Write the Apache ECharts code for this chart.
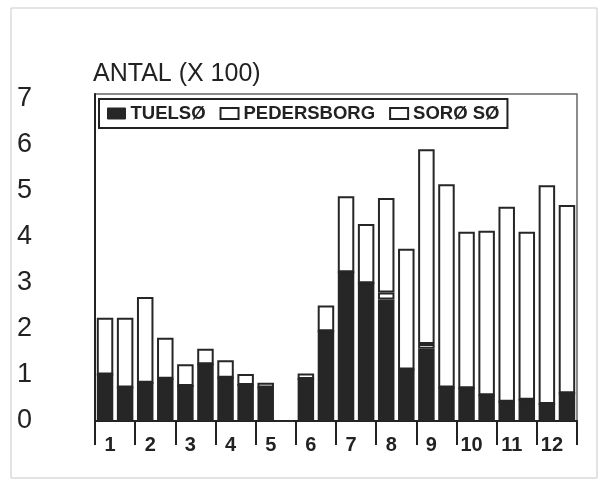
<!DOCTYPE html>
<html>
<head>
<meta charset="utf-8">
<script src="https://cdn.jsdelivr.net/npm/echarts@6/dist/echarts.min.js"></script>
<style>
html,body{margin:0;padding:0;background:#fff;}
#chart{width:605px;height:493px;}
</style>
</head>
<body>
<div id="chart"></div>
<script>
// Months (x-axis tick labels); each month has two bars
const months = ['1','2','3','4','5','6','7','8','9','10','11','12'];
const yTicks = [0,1,2,3,4,5,6,7];
const titleText = 'ANTAL (X 100)';
const seriesNames = ['TUELSØ', 'PEDERSBORG', 'SORØ SØ'];

// Values in hundreds, two bars per month
const tuelso     = [1.01,0.73, 0.83,0.92, 0.76,1.23, 0.94,0.78, 0.73,0.00, 0.91,1.95, 3.23,2.99, 2.64,1.12, 1.57,0.73, 0.71,0.56, 0.42,0.46, 0.37,0.60];
const pedersborg = [0.00,0.00, 0.00,0.00, 0.00,0.00, 0.00,0.00, 0.00,0.00, 0.00,0.00, 0.00,0.00, 0.15,0.00, 0.10,0.00, 0.00,0.00, 0.00,0.00, 0.00,0.00];
const soroSo     = [1.23,1.51, 1.86,0.89, 0.47,0.34, 0.38,0.24, 0.10,0.00, 0.12,0.56, 1.65,1.29, 2.05,2.62, 4.23,4.41, 3.40,3.57, 4.23,3.65, 4.75,4.09];

const slots = [];
months.forEach(m => { slots.push(m + 'a'); slots.push(m + 'b'); });

const DARK = '#262626';
const FONT = 'Liberation Sans, Arial, Helvetica, sans-serif';

const chart = echarts.init(document.getElementById('chart'), null, {renderer: 'canvas'});
const barCommon = {
  type: 'bar', stack: 'total', xAxisIndex: 0, yAxisIndex: 0,
  barWidth: 16.5, animation: false
};
chart.setOption({
  backgroundColor: '#ffffff',
  animation: false,
  title: {
    text: titleText, left: 93, top: 62, padding: 0,
    textStyle: {fontFamily: FONT, fontSize: 25, fontWeight: 'normal', color: '#222'}
  },
  legend: {
    left: 99, top: 99, orient: 'horizontal',
    padding: [5, 8], itemGap: 14, itemWidth: 18, itemHeight: 11,
    backgroundColor: '#fff', borderColor: '#222', borderWidth: 2,
    textStyle: {fontFamily: FONT, fontSize: 18.5, fontWeight: 'bold', color: '#222'},
    data: [
      {name: seriesNames[0], icon: 'rect', itemStyle: {color: DARK, borderColor: DARK, borderWidth: 1}},
      {name: seriesNames[1], icon: 'rect', itemStyle: {color: '#fff', borderColor: '#222', borderWidth: 2}},
      {name: seriesNames[2], icon: 'rect', itemStyle: {color: '#fff', borderColor: '#222', borderWidth: 2}}
    ]
  },
  grid: {
    left: 95, right: 28, top: 94, bottom: 72,
    show: true, borderColor: '#666', borderWidth: 1.5, backgroundColor: 'transparent'
  },
  xAxis: [
    {
      type: 'category', data: slots, position: 'bottom', show: false
    },
    {
      type: 'category', data: months, position: 'bottom', boundaryGap: true,
      axisLine: {show: true, lineStyle: {color: '#222', width: 2}},
      axisTick: {show: true, length: 24, lineStyle: {color: '#222', width: 2}},
      axisLabel: {
        fontFamily: FONT, fontSize: 20, fontWeight: 'bold', color: '#222',
        margin: 14, padding: [0, 10, 0, 0], interval: 0
      },
      splitLine: {show: false}
    }
  ],
  yAxis: {
    type: 'value', min: yTicks[0], max: 7.1, interval: 1,
    axisLine: {show: true, lineStyle: {color: '#222', width: 2}},
    axisTick: {show: false},
    splitLine: {show: false},
    axisLabel: {
      fontFamily: FONT, fontSize: 27, color: '#222', align: 'left', margin: 78,
      padding: [0, 0, 6, 0],
      formatter: v => (yTicks.indexOf(v) >= 0 ? String(v) : '')
    }
  },
  series: [
    Object.assign({}, barCommon, {
      name: seriesNames[0], data: tuelso,
      itemStyle: {color: DARK, borderColor: DARK, borderWidth: 2}
    }),
    Object.assign({}, barCommon, {
      name: seriesNames[1], data: pedersborg,
      itemStyle: {color: '#fff', borderColor: DARK, borderWidth: 2}
    }),
    Object.assign({}, barCommon, {
      name: seriesNames[2], data: soroSo,
      itemStyle: {color: '#fff', borderColor: DARK, borderWidth: 2}
    })
  ],
  graphic: [
    {
      type: 'rect', silent: true, z: -1,
      shape: {x: 11, y: 8, width: 586, height: 470},
      style: {fill: 'none', stroke: '#c8c8c8', lineWidth: 1}
    }
  ]
});
</script>
</body>
</html>
